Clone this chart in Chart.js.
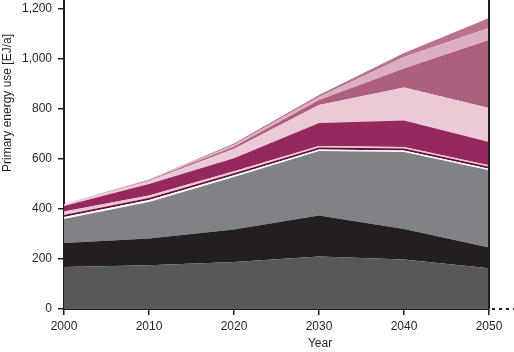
<!DOCTYPE html>
<html>
<head>
<meta charset="utf-8">
<script src="https://cdn.jsdelivr.net/npm/chart.js@4"></script>
<style>
  html, body { margin: 0; padding: 0; background: #ffffff; }
  #wrap { width: 514px; height: 352px; }
</style>
</head>
<body>
<div id="wrap"><canvas id="c" width="514" height="352"></canvas></div>
<script>
// ---- data (EJ/a, stacked layer thicknesses, bottom to top) ----
const years = [2000, 2010, 2020, 2030, 2040, 2050];
const yTicks = [0, 200, 400, 600, 800, 1000, 1200];
const layerDarkGray  = [168, 175, 188, 210, 198, 163];
const layerBlack     = [96, 107, 130, 164, 122, 83];
const layerGray      = [96, 146, 210, 258, 308, 309];
const layerWhite     = [8, 8, 7, 6, 6, 6];
const layerMaroon    = [8, 8, 8, 8, 8, 8];
const layerPaleLine  = [14, 10, 8, 6, 6, 6];
const layerMagenta   = [22, 46, 52, 92, 106, 93];
const layerLightPink = [8, 12, 38, 72, 132, 136];
const layerMauve     = [0, 3, 8, 20, 76, 272];
const layerPink2     = [0, 2, 8, 12, 46, 48];
const layerTopLine   = [0, 1, 5, 8, 16, 40];

const layers = [
  { data: layerDarkGray,  color: '#58585a' },
  { data: layerBlack,     color: '#231f20' },
  { data: layerGray,      color: '#808285' },
  { data: layerWhite,     color: '#ffffff' },
  { data: layerMaroon,    color: '#6a0f35' },
  { data: layerPaleLine,  color: '#e9c6d5' },
  { data: layerMagenta,   color: '#95295d' },
  { data: layerLightPink, color: '#ebcad8' },
  { data: layerMauve,     color: '#ae5f80' },
  { data: layerPink2,     color: '#dcaec2' },
  { data: layerTopLine,   color: '#b9728f' }
];

const AXIS = '#231f20';
const FONT = '"Liberation Sans", Arial, Helvetica, sans-serif';

const datasets = layers.map((l, i) => ({
  data: years.map((yr, j) => ({ x: yr, y: l.data[j] })),
  backgroundColor: l.color,
  borderColor: l.color,
  borderWidth: 0,
  pointRadius: 0,
  tension: 0,
  fill: i === 0 ? 'origin' : '-1'
}));

const extras = {
  id: 'extras',
  afterDraw(chart) {
    const { ctx, chartArea, scales } = chart;
    const xr = scales.x.getPixelForValue(2050);
    ctx.save();
    ctx.strokeStyle = AXIS;
    ctx.lineWidth = 2;
    // y axis extension to top
    ctx.beginPath();
    ctx.moveTo(chartArea.left, 0);
    ctx.lineTo(chartArea.left, chartArea.top);
    ctx.stroke();
    // right line at 2050
    ctx.beginPath();
    ctx.moveTo(xr, 0);
    ctx.lineTo(xr, chartArea.bottom);
    ctx.stroke();
    // dotted continuation of x axis
    ctx.setLineDash([3, 4]);
    ctx.beginPath();
    ctx.moveTo(xr + 3, chartArea.bottom);
    ctx.lineTo(chart.width, chartArea.bottom);
    ctx.stroke();
    ctx.setLineDash([]);
    // titles
    ctx.fillStyle = AXIS;
    ctx.font = '12px ' + FONT;
    ctx.textAlign = 'center';
    ctx.textBaseline = 'middle';
    ctx.fillText('Year', 320, 344);
    ctx.translate(8, 103);
    ctx.rotate(-Math.PI / 2);
    ctx.fillText('Primary energy use [EJ/a]', 0, 0);
    ctx.restore();
  }
};

new Chart(document.getElementById('c'), {
  type: 'line',
  data: { datasets },
  options: {
    responsive: false,
    animation: false,
    layout: { padding: { top: 9, right: 25, left: 0, bottom: 0 } },
    plugins: { legend: { display: false }, tooltip: { enabled: false } },
    scales: {
      x: {
        type: 'linear',
        min: 2000,
        max: 2050,
        afterFit(s) { s.height = 43; s.paddingLeft = 0; s.paddingRight = 0; },
        border: { color: AXIS, width: 2 },
        grid: { drawOnChartArea: false, drawTicks: true, tickLength: 6, color: AXIS, lineWidth: 1.5 },
        ticks: {
          stepSize: 10, autoSkip: false, maxRotation: 0, padding: 4,
          color: AXIS, font: { family: FONT, size: 12 },
          callback: v => String(v)
        }
      },
      y: {
        type: 'linear',
        stacked: true,
        min: 0,
        max: 1200,
        afterFit(s) { s.width = 64; s.paddingTop = 0; s.paddingBottom = 0; },
        afterBuildTicks(s) { s.ticks = yTicks.map(v => ({ value: v })); },
        border: { color: AXIS, width: 2 },
        grid: { drawOnChartArea: false, drawTicks: true, tickLength: 6, color: AXIS, lineWidth: 1.5 },
        ticks: {
          padding: 6,
          color: AXIS, font: { family: FONT, size: 12 },
          callback: v => v.toLocaleString('en-US')
        }
      }
    }
  },
  plugins: [extras]
});
</script>
</body>
</html>
